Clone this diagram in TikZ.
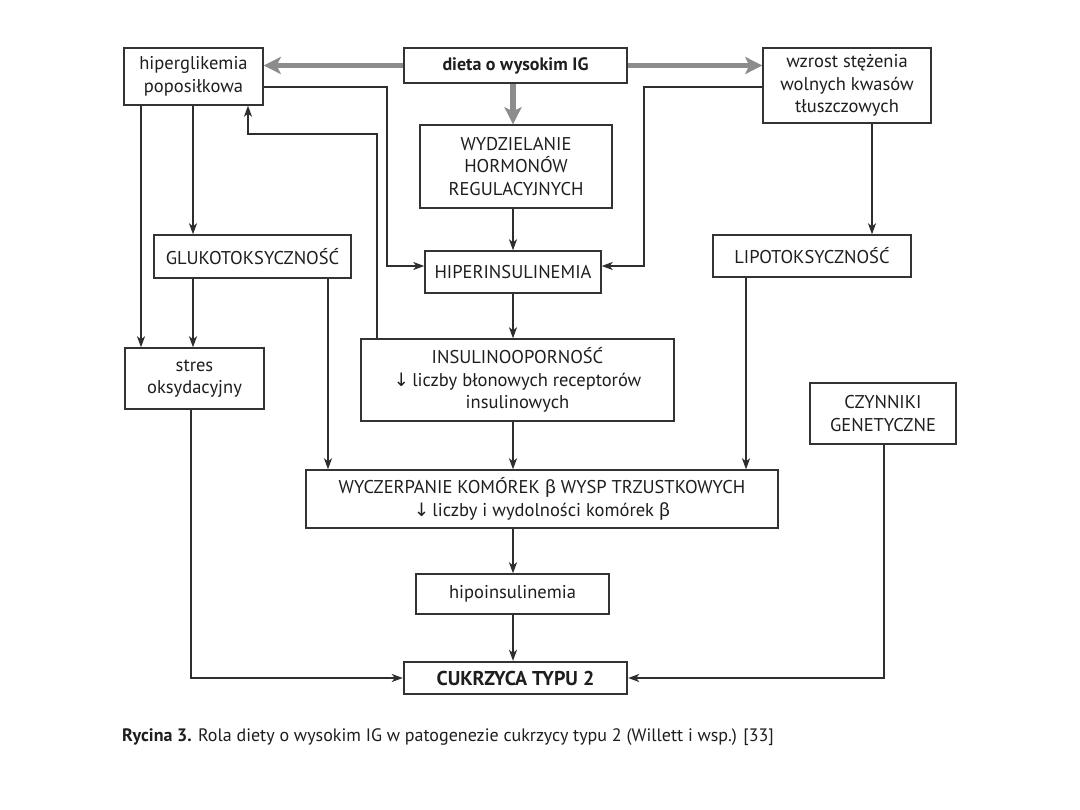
\documentclass[tikz,border=0pt]{standalone}
\usepackage{fontspec}
\setmainfont{PT Sans}
\newfontfamily\grkfont{Fira Sans}
\newfontfamily\symfont{DejaVu Sans}
\usetikzlibrary{arrows.meta,calc}
\newcommand{\bet}{{\grkfont β}}
\newcommand{\dnarr}{{\symfont ↓}}
\definecolor{boxgray}{HTML}{333333}
\definecolor{linegray}{HTML}{2E2E2E}
\definecolor{arrgray}{HTML}{8C8C8C}
\definecolor{textgray}{HTML}{1E1E1E}
\begin{document}
\begin{tikzpicture}[x=1pt,y=-1pt,
  box/.style={draw=boxgray, line width=1.4pt, fill=white, align=center, inner sep=0pt,
    font=\fontsize{18.5}{22.5}\selectfont, text=textgray},
  arr/.style={draw=linegray, line width=1.4pt, -{Stealth[length=11pt,width=8pt,inset=3pt]}},
  garr/.style={draw=arrgray, line width=5.5pt, -{Stealth[length=17pt,width=17pt,inset=4pt]}},
]
\useasboundingbox[fill=white] (0,0) rectangle (1080,810);

% nodes
\node[box, minimum width=139pt, minimum height=57pt] (hiper) at (193.5,76.5) {hiperglikemia\\poposiłkowa};
\node[box, minimum width=223pt, minimum height=35pt, font=\fontsize{18}{22}\selectfont\bfseries] (dieta) at (515.5,65.5) {dieta o wysokim IG};
\node[box, minimum width=168pt, minimum height=75pt] (wzrost) at (847,85.5) {wzrost stężenia\\wolnych kwasów\\tłuszczowych};
\node[box, minimum width=192pt, minimum height=83pt] (wydz) at (516,166.5) {WYDZIELANIE\\HORMONÓW\\REGULACYJNYCH};
\node[box, minimum width=197pt, minimum height=43pt] (gluko) at (252.5,256.5) {GLUKOTOKSYCZNOŚĆ};
\node[box, minimum width=176pt, minimum height=42pt] (hiperins) at (513,272) {HIPERINSULINEMIA};
\node[box, minimum width=198pt, minimum height=42pt] (lipo) at (812,256) {LIPOTOKSYCZNOŚĆ};
\node[box, minimum width=139pt, minimum height=61pt] (stres) at (194.5,378.5) {stres\\oksydacyjny};
\node[box, minimum width=313pt, minimum height=82pt] (insulino) at (517.5,380) {INSULINOOPORNOŚĆ\\\dnarr\,liczby błonowych receptorów\\insulinowych};
\node[box, minimum width=146pt, minimum height=61pt] (czynniki) at (883,413.5) {CZYNNIKI\\GENETYCZNE};
\node[box, minimum width=472pt, minimum height=58pt] (wycz) at (542,499) {WYCZERPANIE KOMÓREK \bet{} WYSP TRZUSTKOWYCH\\\dnarr\,liczby i wydolności komórek \bet};
\node[box, minimum width=193pt, minimum height=40pt] (hipo) at (512.5,594) {hipoinsulinemia};
\node[box, minimum width=223pt, minimum height=32pt, line width=2.4pt, font=\fontsize{20}{22}\selectfont\bfseries] (cukrzyca) at (515.5,678) {CUKRZYCA TYPU 2};

\node[anchor=west, inner sep=0pt, text=textgray, font=\fontsize{18}{20}\selectfont] (caption) at (122,737)
  {\textbf{Rycina 3.} Rola diety o wysokim IG w patogenezie cukrzycy typu 2 (Willett i wsp.) [33]};

% helper coordinates for connector columns / rows
\coordinate (x141) at (141,0);
\coordinate (x193) at (193,0);
\coordinate (x191) at (191,0);
\coordinate (x248) at (248,0);
\coordinate (x328) at (328,0);
\coordinate (x377) at (377,0);
\coordinate (x387) at (387,0);
\coordinate (x513) at (513,0);
\coordinate (x644) at (644,0);
\coordinate (x746) at (746,0);
\coordinate (x872) at (872,0);
\coordinate (x884) at (884,0);
\coordinate (y87) at (0,87);
\coordinate (y134) at (0,134);
\coordinate (y266) at (0,266);

% gray thick arrows
\draw[garr] (dieta.west) -- (dieta.west -| hiper.east);
\draw[garr] (dieta.east) -- (dieta.east -| wzrost.west);
\draw[garr] (x513 |- dieta.south) -- (x513 |- wydz.north);

% black connectors
\draw[arr] (hiper.east |- y87) -| (x387 |- y266) -- (hiperins.west |- y266);
\draw[arr] (wzrost.west |- y87) -| (x644 |- y266) -- (hiperins.east |- y266);
\draw[arr] (x872 |- wzrost.south) -- (x872 |- lipo.north);
\draw[arr] (x141 |- hiper.south) -- (x141 |- stres.north);
\draw[arr] (x193 |- hiper.south) -- (x193 |- gluko.north);
\draw[arr] (x193 |- gluko.south) -- (x193 |- stres.north);
\draw[arr] (x328 |- gluko.south) -- (x328 |- wycz.north);
\draw[arr] (x377 |- insulino.north) |- (x248 |- y134) -- (x248 |- hiper.south);
\draw[arr] (x513 |- wydz.south) -- (x513 |- hiperins.north);
\draw[arr] (x513 |- hiperins.south) -- (x513 |- insulino.north);
\draw[arr] (x513 |- insulino.south) -- (x513 |- wycz.north);
\draw[arr] (x746 |- lipo.south) -- (x746 |- wycz.north);
\draw[arr] (x513 |- wycz.south) -- (x513 |- hipo.north);
\draw[arr] (x513 |- hipo.south) -- (x513 |- cukrzyca.north);
\draw[arr] (x191 |- stres.south) |- (cukrzyca.west);
\draw[arr] (x884 |- czynniki.south) |- (cukrzyca.east);
\end{tikzpicture}
\end{document}
